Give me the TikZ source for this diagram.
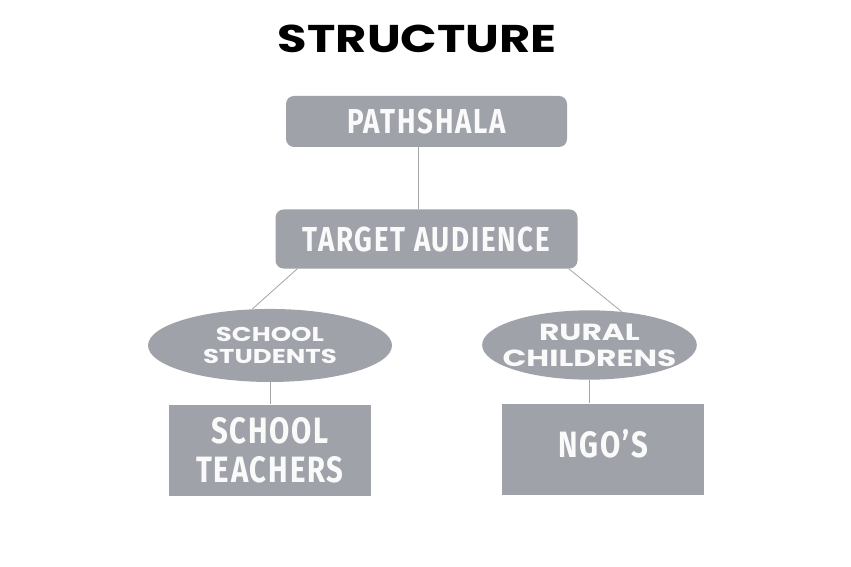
\documentclass[tikz,border=0pt]{standalone}
\usepackage{fontspec}
\usepackage{xcolor}
\usepackage{tikz}
\usetikzlibrary{positioning,shapes.geometric}
\newfontfamily\titlefont[FakeStretch=1.24]{Poppins}
\newfontfamily\ellfont[FakeStretch=1.3]{Poppins}
\newfontfamily\wideellfont[FakeStretch=1.34]{Poppins}
\newfontfamily\boxfont[FakeStretch=0.8,LetterSpace=5]{Fira Sans}
\definecolor{boxgray}{HTML}{9FA2A9}
\definecolor{linegray}{HTML}{A3A4A8}
\definecolor{txtwhite}{HTML}{FAFAFA}

\begin{document}
\begin{tikzpicture}[box/.style={fill=boxgray,rounded corners=6pt,inner sep=0pt,text=txtwhite,font=\boxfont\bfseries\fontsize{26}{30}\selectfont}, ell/.style={ellipse,fill=boxgray,inner xsep=-20pt,inner ysep=-10pt,text=txtwhite,align=center}, sq/.style={fill=boxgray,inner sep=0pt,minimum width=151.5pt,minimum height=68.25pt,align=center,text=txtwhite,font=\boxfont\bfseries\fontsize{27.5}{29}\selectfont}, conn/.style={draw=linegray,line width=0.6pt}]
\useasboundingbox[fill=white] (0,0) rectangle (638.25pt,-425.25pt);
\node[inner sep=0pt,font=\titlefont\bfseries\fontsize{29}{32}\selectfont] (title) at (313pt,-29.25pt) {STRUCTURE};
\node[box,minimum width=210.75pt,minimum height=38.25pt] (pathshala) at (319.9pt,-91.1pt) {PATHSHALA};
\node[box,minimum width=226.5pt,minimum height=44.25pt,below=46.5pt of pathshala] (audience) {TARGET AUDIENCE};
\node[ell,minimum width=183pt,minimum height=54.75pt,font=\ellfont\bfseries\fontsize{15}{17}\selectfont] (students) at (202.5pt,-259.1pt) {SCHOOL\\STUDENTS};
\node[ell,minimum width=161pt,minimum height=52pt,font=\wideellfont\bfseries\fontsize{17.5}{19.5}\selectfont] (rural) at (442.1pt,-258.75pt) {RURAL\\CHILDRENS};
\node[sq,below=16.5pt of students] (teachers) {SCHOOL\\TEACHERS};
\node[sq,below=17.5pt of rural,xshift=10.5pt] (ngo) {\raisebox{3.75pt}[\height][\depth]{NGO’S}};
\draw[conn] ([xshift=-6.4pt]pathshala.south) -- ([xshift=-6.4pt]audience.north);
\draw[conn] ([xshift=16.5pt]audience.south west) -- (students.116);
\draw[conn] ([xshift=-6.75pt]audience.south east) -- (rural.46);
\draw[conn] (students.south) -- (teachers.north);
\draw[conn] (rural.south) -- (rural.south |- ngo.north);
\end{tikzpicture}
\end{document}
